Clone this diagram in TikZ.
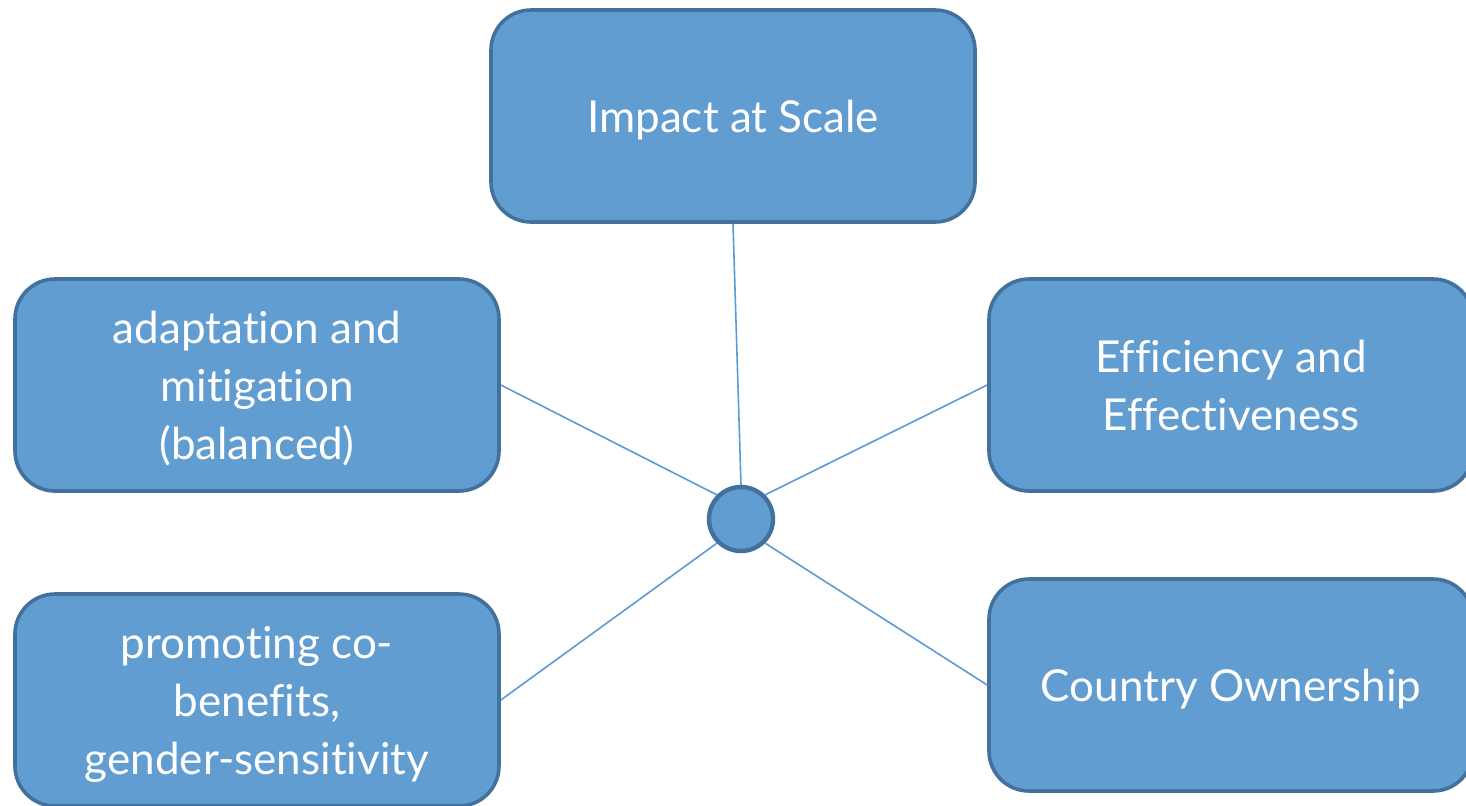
\documentclass[tikz,border=0pt]{standalone}
\usepackage{fontspec}
\setmainfont{Lato}[Ligatures=NoCommon]
\usetikzlibrary{positioning}

\definecolor{boxfill}{HTML}{619DD1}
\definecolor{boxedge}{HTML}{41719C}
\definecolor{linkblue}{HTML}{5B9BD5}

\begin{document}
\begin{tikzpicture}[
    x=0.5pt, y=-0.5pt,
    goalbox/.style={rectangle, rounded corners=20pt, minimum width=242pt, minimum height=106pt, text centered, align=center, text depth=0pt, draw=boxedge, line width=1.8pt, fill=boxfill, text=white, font=\fontsize{22}{29}\selectfont},
    hubcircle/.style={circle, minimum size=32pt, inner sep=0pt, draw=boxedge, line width=2.2pt, fill=boxfill},
    link/.style={draw=linkblue, line width=0.8pt}
]
\useasboundingbox (0,0) rectangle (1466,805);

% Goal boxes
\node[goalbox] (impact) at (733,116) {Impact at Scale};
\node[goalbox] (adapt) at (257,385) {adaptation and\\mitigation\\(balanced)};
\node[goalbox] (effic) at (1231,385) {Efficiency and\\Effectiveness};
\node[goalbox] (cobenefit) at (257,700) {promoting co-\\benefits,\\gender-sensitivity};
\node[goalbox] (owner) at (1231,685) {Country Ownership};

% Hub
\node[hubcircle] (hub) at (741,519) {};

% Links
\draw[link] (impact.south) -- (hub.north);
\draw[link] (adapt.east) -- (hub.north west);
\draw[link] (effic.west) -- (hub.north east);
\draw[link] (cobenefit.east) -- (hub.south west);
\draw[link] (owner.west) -- (hub.south east);

\end{tikzpicture}
\end{document}
